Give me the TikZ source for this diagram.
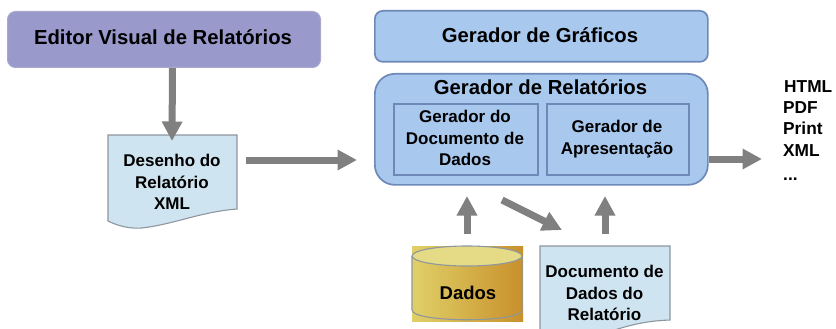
\documentclass[tikz,border=0pt]{standalone}
\usepackage{fontspec}
\setmainfont{Liberation Sans}
\usetikzlibrary{arrows.meta}
\definecolor{violetfill}{HTML}{9999CC}
\definecolor{violetline}{HTML}{A9A9CF}
\definecolor{bluefill}{HTML}{A8C8EE}
\definecolor{blueline}{HTML}{6E88B8}
\definecolor{docfill}{HTML}{CFE4F1}
\definecolor{docline}{HTML}{8E979E}
\definecolor{arrowgray}{HTML}{808080}
\definecolor{goldleft}{HTML}{E0D068}
\definecolor{goldright}{HTML}{C8902C}
\definecolor{goldtop}{HTML}{E5DA85}
\tikzset{
  x=1pt,y=-1pt,
  lbl/.style={font=\bfseries\fontsize{17}{21.4}\selectfont,align=center,text=black,inner sep=0pt},
  biglbl/.style={font=\bfseries\fontsize{20.3}{24}\selectfont,align=center,text=black,inner sep=0pt},
  block/.style={draw=blueline,fill=bluefill,line width=1.7pt,rounded corners=#1},
  block/.default=8pt,
  inner box/.style={draw=blueline,fill=bluefill,line width=1.8pt},
  docshape/.style={draw=docline,fill=docfill,line width=1.1pt},
  bigarrow/.style={draw=arrowgray,line width=7pt,-{Triangle[length=19.5pt,width=19.5pt,color=arrowgray]}},
}
\begin{document}
\begin{tikzpicture}
\useasboundingbox (0,0) rectangle (836,329);
% editor
\node[draw=violetline,fill=violetfill,line width=1pt,rounded corners=8pt,minimum width=313pt,minimum height=56pt,anchor=north west,inner sep=0pt] (editor) at (7,11) {};
\node[biglbl] (editorlabel) at (163,37.5) {Editor Visual de Relatórios};
% doc 1
\path[docshape] (108,135) -- (237,135) -- (237,209) .. controls (200,212) and (175,224) .. (142,228) .. controls (130,229) and (118,226) .. (108,221) -- cycle;
\node[lbl] (desenho) at (172,182) {Desenho do\\Relatório\\XML};
% graficos
\node[block,minimum width=333pt,minimum height=51pt,anchor=north west,inner sep=0pt] (graficos) at (374,10) {};
\node[biglbl] (graficoslabel) at (540,35) {Gerador de Gráficos};
% relatorios
\node[block=20pt,minimum width=333pt,minimum height=111pt,anchor=north west,inner sep=0pt] (relatorios) at (374,73) {};
\node[biglbl] (relatorioslabel) at (540.5,87.5) {Gerador de Relatórios};
\node[inner box,minimum width=144pt,minimum height=71pt,anchor=north west,inner sep=0pt] (docdados) at (393,103) {};
\node[lbl] (docdadoslabel) at (465,138) {Gerador do\\Documento de\\Dados};
\node[inner box,minimum width=142pt,minimum height=71pt,anchor=north west,inner sep=0pt] (apres) at (546,103) {};
\node[lbl] (apreslabel) at (617,139) {Gerador de\\Apresentação};
% outputs
\node[lbl,font=\bfseries\fontsize{17.3}{21.4}\selectfont,align=left,anchor=north west] (saidas) at (783,80) {\hspace*{1pt}HTML\\PDF\\Print\\XML\\[3pt]...};
% cylinder
\shade[left color=goldleft,right color=goldright] (412,246) rectangle (523,321);
\path[draw=docline,line width=1.1pt] (412,256) -- (412,310) .. controls (412,323) and (522,323) .. (522,310) -- (522,256);
\path[draw=docline,fill=goldtop,line width=1.1pt] (467,256) ellipse [x radius=55pt,y radius=10pt];
\node[lbl,font=\bfseries\fontsize{18.5}{21}\selectfont] (dados) at (468,293) {Dados};
% doc 2
\path[docshape] (540,246) -- (670,246) -- (670,320) .. controls (640,321) and (620,328) .. (600,335) -- (540,335) -- cycle;
\node[lbl] (docrel) at (604.5,293) {Documento de\\Dados do\\Relatório};
% arrows
\coordinate (a1e) at (172,141);
\coordinate (a2s) at (246,160);
\coordinate (a2e) at (357,160);
\coordinate (a3e) at (762,159);
\coordinate (u1s) at (467,234);
\coordinate (u1e) at (467,196);
\coordinate (u2s) at (605,234);
\coordinate (u2e) at (605,196);
\coordinate (ds) at (502,200);
\coordinate (de) at (562,230);
\draw[bigarrow] ([xshift=8.5pt]editor.south) -- (a1e);
\draw[bigarrow] (a2s) -- (a2e);
\draw[bigarrow] (relatorios.east |- a3e) -- (a3e);
\draw[bigarrow] (u1s) -- (u1e);
\draw[bigarrow] (u2s) -- (u2e);
\draw[bigarrow] (ds) -- (de);
\end{tikzpicture}
\end{document}
